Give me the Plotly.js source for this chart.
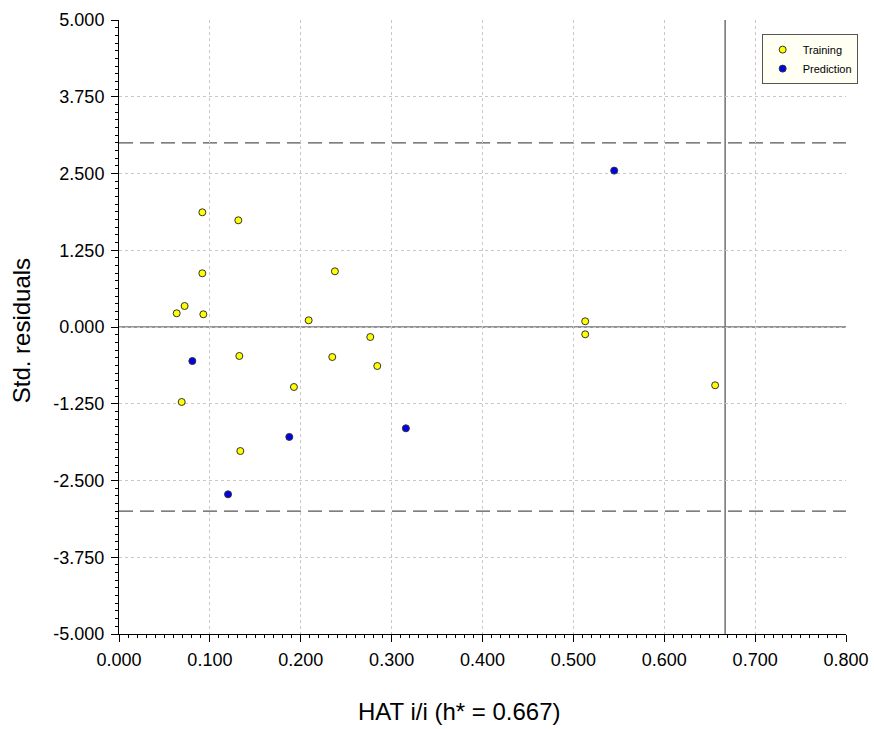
<!DOCTYPE html>
<html>
<head>
<meta charset="utf-8">
<script src="https://cdn.plot.ly/plotly-3.0.1.min.js"></script>
<style>html,body{margin:0;padding:0;background:#fff;}#chart{width:874px;height:729px;}</style>
</head>
<body>
<div id="chart"></div>
<script>
const trainingHat = [0.0917, 0.1313, 0.0917, 0.0635, 0.0722, 0.0928, 0.2376, 0.2087, 0.1324, 0.2347, 0.2765, 0.2842, 0.1925, 0.0690, 0.1335, 0.513, 0.513, 0.656];
const trainingRes = [1.868, 1.738, 0.875, 0.223, 0.342, 0.207, 0.907, 0.109, -0.472, -0.489, -0.163, -0.635, -0.977, -1.221, -2.020, 0.093, -0.119, -0.949];
const predictionHat = [0.0807, 0.1874, 0.1200, 0.3157, 0.5449];
const predictionRes = [-0.554, -1.790, -2.725, -1.650, 2.547];
const hStar = 0.667;
const residualLimit = 3;
const xTickVals = [0, 0.1, 0.2, 0.3, 0.4, 0.5, 0.6, 0.7, 0.8];
const xTickText = ['0.000', '0.100', '0.200', '0.300', '0.400', '0.500', '0.600', '0.700', '0.800'];
const yTickVals = [-5, -3.75, -2.5, -1.25, 0, 1.25, 2.5, 3.75, 5];
const yTickText = ['-5.000', '-3.750', '-2.500', '-1.250', '0.000', '1.250', '2.500', '3.750', '5.000'];
const xTitle = 'HAT i/i (h* = 0.667)';
const yTitle = 'Std. residuals';

const markerLine = {color: '#333333', width: 1};
const traces = [
  {x: trainingHat, y: trainingRes, type: 'scatter', mode: 'markers', name: 'Training',
   marker: {color: '#ffff00', size: 7, line: markerLine}},
  {x: predictionHat, y: predictionRes, type: 'scatter', mode: 'markers', name: 'Prediction',
   marker: {color: '#0000ee', size: 7, line: markerLine}}
];

const fam = 'Liberation Sans, Arial, sans-serif';
const layout = {
  width: 874, height: 729,
  margin: {l: 119, r: 28, t: 20, b: 95},
  paper_bgcolor: '#fff', plot_bgcolor: '#fff',
  font: {family: fam, color: '#000'},
  showlegend: true,
  legend: {x: 0.884, y: 0.977, xanchor: 'left', yanchor: 'top', bgcolor: '#fffff4',
           bordercolor: '#555', borderwidth: 1, font: {size: 11, family: fam},
           itemsizing: 'trace', itemwidth: 30, tracegroupgap: 0},
  xaxis: {
    range: [0, 0.8], tickvals: xTickVals, ticktext: xTickText,
    showgrid: true, gridcolor: '#c8c8c8', griddash: '3px,3px', gridwidth: 1,
    zeroline: false, showline: true, linecolor: '#000', linewidth: 1,
    ticks: 'outside', ticklen: 7, tickcolor: '#000', ticklabelstandoff: 2,
    minor: {dtick: 0.01, tick0: 0, ticks: 'outside', ticklen: 3, tickcolor: '#000', showgrid: false},
    tickfont: {size: 18, family: fam}
  },
  yaxis: {
    range: [-5, 5], tickvals: yTickVals, ticktext: yTickText,
    showgrid: true, gridcolor: '#c8c8c8', griddash: '3px,3px', gridwidth: 1,
    zeroline: false, showline: true, linecolor: '#000', linewidth: 1,
    ticks: 'outside', ticklen: 7, tickcolor: '#000', ticklabelstandoff: 3,
    minor: {dtick: 0.125, tick0: 0, ticks: 'outside', ticklen: 3, tickcolor: '#000', showgrid: false},
    tickfont: {size: 18, family: fam}
  },
  annotations: [
    {text: xTitle, xref: 'paper', yref: 'paper', x: 0.4677, y: -0.1015, xanchor: 'center', yanchor: 'top',
     showarrow: false, font: {size: 24, family: fam}},
    {text: yTitle, xref: 'paper', yref: 'paper', x: -0.133, y: 0.4935, xanchor: 'center', yanchor: 'middle',
     textangle: -90, showarrow: false, font: {size: 24, family: fam}}
  ],
  shapes: [
    {type: 'line', xref: 'paper', x0: 0, x1: 1, yref: 'y', y0: 0, y1: 0, line: {color: '#707070', width: 1.5}, layer: 'below'},
    {type: 'line', xref: 'paper', x0: 0, x1: 1, yref: 'y', y0: residualLimit, y1: residualLimit, line: {color: '#555', width: 1.2, dash: '14px,7px'}, layer: 'below'},
    {type: 'line', xref: 'paper', x0: 0, x1: 1, yref: 'y', y0: -residualLimit, y1: -residualLimit, line: {color: '#555', width: 1.2, dash: '14px,7px'}, layer: 'below'},
    {type: 'line', xref: 'x', x0: hStar, x1: hStar, yref: 'paper', y0: 0, y1: 1, line: {color: '#707070', width: 1.5}, layer: 'below'}
  ]
};

Plotly.newPlot('chart', traces, layout, {displayModeBar: false, staticPlot: true});
</script>
</body>
</html>
